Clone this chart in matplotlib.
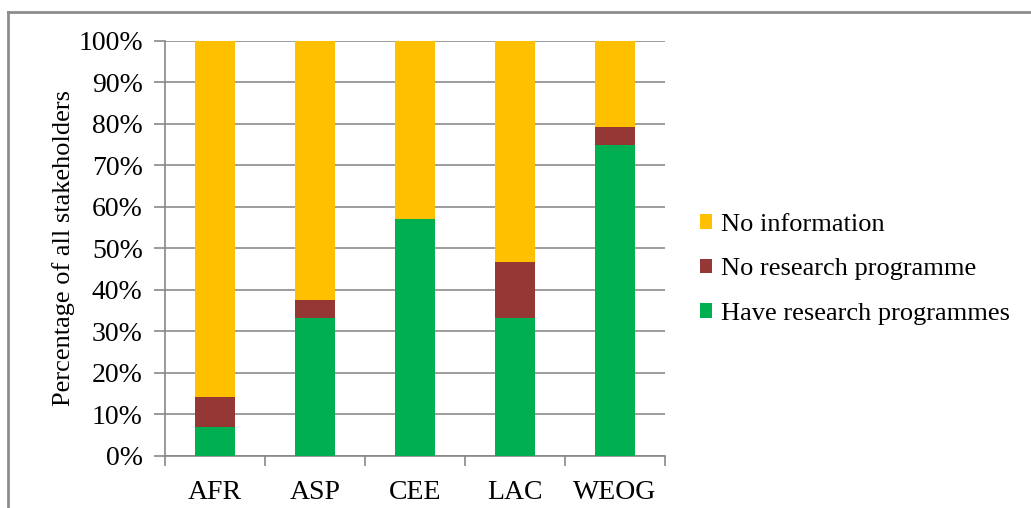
import numpy as np
import matplotlib
matplotlib.use("Agg")
import matplotlib.pyplot as plt
from matplotlib.lines import Line2D

regions = ["AFR", "ASP", "CEE", "LAC", "WEOG"]
have_research = [7.1, 33.3, 57.1, 33.3, 75.0]
no_research = [7.2, 4.2, 0.0, 13.4, 4.2]
no_info = [85.7, 62.5, 42.9, 53.3, 20.8]

plt.rcParams["font.family"] = ["Liberation Serif", "DejaVu Serif"]

fig = plt.figure(figsize=(10.31, 5.08), dpi=100)
ax = fig.add_axes([0.16, 0.1024, 0.485, 0.817])

x = np.arange(len(regions))
green = np.array(have_research)
red = np.array(no_research)
yellow = np.array(no_info)
ax.bar(x, green, width=0.4, color="#00B050", label="Have research programmes", zorder=3)
ax.bar(x, red, width=0.4, bottom=green, color="#953735", label="No research programme", zorder=3)
ax.bar(x, yellow, width=0.4, bottom=green + red, color="#FFC000", label="No information", zorder=3)

ax.set_xlim(-0.5, len(regions) - 0.5)
ax.set_ylim(0, 100)
ax.set_yticks(np.arange(0, 101, 10))
ax.set_yticklabels([f"{v}%" for v in range(0, 101, 10)], fontsize=20)
ax.set_xticks(x)
ax.set_xticklabels(regions, fontsize=20)
ax.set_xticks(np.arange(-0.5, len(regions), 1), minor=True)
ax.tick_params(axis="x", which="major", length=0, pad=17)
ax.tick_params(axis="x", which="minor", length=7, color="#888888", width=1.2)
ax.tick_params(axis="y", length=8, color="#888888", width=1.2, pad=8)
ax.grid(axis="y", color="#8c8c8c", linewidth=1.2, zorder=0)
for side in ["top", "right"]:
    ax.spines[side].set_visible(False)
for side in ["left", "bottom"]:
    ax.spines[side].set_color("#888888")
    ax.spines[side].set_linewidth(1.2)
ax.set_ylabel("Percentage of all stakeholders", fontsize=19, labelpad=2)

handles, labels = ax.get_legend_handles_labels()
ax.legend(handles[::-1], labels[::-1], loc="center left", bbox_to_anchor=(1.022, 0.45),
          frameon=False, fontsize=19, handlelength=0.47, handleheight=0.47,
          handletextpad=0.35, labelspacing=0.85)

# outer chart frame (only left and top edges visible in the crop)
fig.add_artist(Line2D([8 / 1031, 8 / 1031], [0, 1 - 12 / 508], transform=fig.transFigure,
                      color="#8c8c8c", linewidth=2))
fig.add_artist(Line2D([8 / 1031, 1], [1 - 12 / 508, 1 - 12 / 508], transform=fig.transFigure,
                      color="#8c8c8c", linewidth=2))

fig.savefig("out.png", dpi=100)
